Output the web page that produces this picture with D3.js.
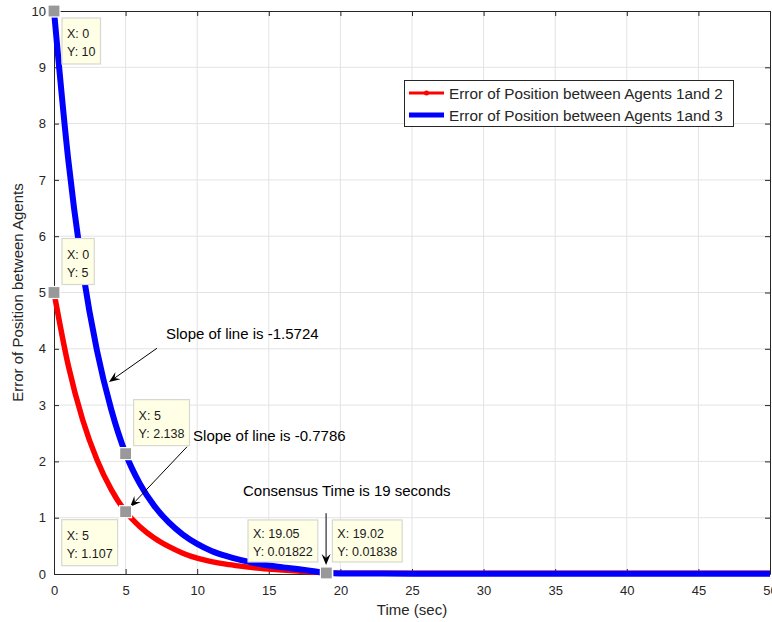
<!DOCTYPE html>
<html>
<head>
<meta charset="utf-8">
<script src="https://cdn.jsdelivr.net/npm/d3@7"></script>
<style>
  html, body { margin: 0; padding: 0; background: #fff; }
  svg { display: block; font-family: "Liberation Sans", Arial, Helvetica, sans-serif; }
</style>
</head>
<body>
<svg id="chart" width="772" height="622"></svg>
<script>
// Time samples (sec) and position errors between agents
const timeRed = [0,1,2,3,4,5,6,7,8,9,10,11,12,13,14,15,16,17,18,19.05,20,25,30,35,40,45,50];
const errorRed = [5,3.70,2.74,2.03,1.50,1.107,0.84,0.64,0.49,0.37,0.28,0.22,0.175,0.14,0.11,0.088,0.07,0.053,0.037,0.01822,0.015,0.013,0.012,0.012,0.012,0.012,0.012];
const timeBlue = [0,1,2,3,4,5,6,7,8,9,10,11,12,13,14,15,16,17,18,19.02,20,25,30,35,40,45,50];
const errorBlue = [10,7.35,5.40,3.97,2.92,2.138,1.60,1.21,0.92,0.70,0.535,0.41,0.32,0.25,0.195,0.152,0.118,0.088,0.055,0.01838,0.011,0.006,0.005,0.004,0.004,0.004,0.004];

const xTicks = [0,5,10,15,20,25,30,35,40,45,50];
const yTicks = [0,1,2,3,4,5,6,7,8,9,10];
const legendLabels = ["Error of Position between Agents 1and 2", "Error of Position between Agents 1and 3"];

// Data tips: point, label lines
const tipX = [0, 0, 5, 5, 19.05, 19.02];
const tipY = [10, 5, 2.138, 1.107, 0.01822, 0.01838];
const tipLabels = [["X: 0","Y: 10"],["X: 0","Y: 5"],["X: 5","Y: 2.138"],["X: 5","Y: 1.107"],["X: 19.05","Y: 0.01822"],["X: 19.02","Y: 0.01838"]];

// Text arrows (data coordinates)
const noteText = ["Slope of line is -1.5724", "Slope of line is -0.7786", "Consensus Time is 19 seconds"];
const noteTextPos = [[7.82,4.17],[9.71,2.36],[13.2,1.385]];
const noteTail = [[7.19,4.01],[9.29,2.26],[19.0,1.08]];
const noteHead = [[3.84,3.41],[5.31,1.19],[19.0,0.16]];

const svg = d3.select("#chart");
const L = 54, R = 770, T = 11, B = 574;
const x = d3.scaleLinear().domain([0,50]).range([L,R]);
const y = d3.scaleLinear().domain([0,10]).range([B,T]);
const axisColor = "#262626";

// grid
svg.append("g").selectAll("line.gx").data(xTicks.slice(1,-1)).join("line")
  .attr("x1", d=>x(d)).attr("x2", d=>x(d)).attr("y1", T).attr("y2", B)
  .attr("stroke", "#e3e3e3").attr("stroke-width", 1);
svg.append("g").selectAll("line.gy").data(yTicks.slice(1,-1)).join("line")
  .attr("x1", L).attr("x2", R).attr("y1", d=>y(d)).attr("y2", d=>y(d))
  .attr("stroke", "#e3e3e3").attr("stroke-width", 1);

// axes with inward ticks on all sides
const xb = d3.axisBottom(x).tickValues(xTicks).tickSizeInner(-5).tickSizeOuter(0).tickPadding(12);
const xt = d3.axisTop(x).tickValues(xTicks).tickSizeInner(-5).tickSizeOuter(0).tickFormat("");
const yl = d3.axisLeft(y).tickValues(yTicks).tickSizeInner(-5).tickSizeOuter(0).tickPadding(8);
const yr = d3.axisRight(y).tickValues(yTicks).tickSizeInner(-5).tickSizeOuter(0).tickFormat("");
function styleAxis(g) {
  g.selectAll("path").attr("stroke", axisColor).attr("stroke-width", 1);
  g.selectAll("line").attr("stroke", axisColor);
  g.selectAll("text").attr("fill", axisColor).style("font-size", "13px").style("font-family", "Liberation Sans, Arial, sans-serif");
}
svg.append("g").attr("transform", `translate(0,${B})`).call(xb).call(styleAxis);
svg.append("g").attr("transform", `translate(0,${T})`).call(xt).call(styleAxis);
svg.append("g").attr("transform", `translate(${L},0)`).call(yl).call(styleAxis);
svg.append("g").attr("transform", `translate(${R},0)`).call(yr).call(styleAxis);

// axis labels
svg.append("text").attr("x", (L+R)/2).attr("y", 615).attr("text-anchor", "middle")
  .attr("fill", axisColor).style("font-size", "15px").text("Time (sec)");
svg.append("text").attr("transform", `translate(23,${(T+B)/2}) rotate(-90)`).attr("text-anchor", "middle")
  .attr("fill", axisColor).style("font-size", "15px").text("Error of Position between Agents");

// curves
const line = d3.line().x(d=>x(d[0])).y(d=>y(d[1])).curve(d3.curveMonotoneX);
const redPts = timeRed.map((t,i)=>[t, errorRed[i]]);
const bluePts = timeBlue.map((t,i)=>[t, errorBlue[i]]);
svg.append("path").datum(redPts).attr("d", line).attr("fill", "none")
  .attr("stroke", "#ff0000").attr("stroke-width", 5.5).attr("stroke-linejoin", "round");
svg.append("path").datum(bluePts).attr("d", line).attr("fill", "none")
  .attr("stroke", "#0000ff").attr("stroke-width", 6).attr("stroke-linejoin", "round");

// legend
const lg = svg.append("g");
lg.append("rect").attr("x", 404.5).attr("y", 80.5).attr("width", 329).attr("height", 46)
  .attr("fill", "#fff").attr("stroke", axisColor).attr("stroke-width", 1);
const legColors = ["#ff0000", "#0000ff"];
const legY = [93, 115];
legendLabels.forEach((lab, i) => {
  lg.append("line").attr("x1", 409).attr("x2", 444).attr("y1", legY[i]).attr("y2", legY[i])
    .attr("stroke", legColors[i]).attr("stroke-width", i === 0 ? 3 : 5);
  if (i === 0) lg.append("circle").attr("cx", 426.5).attr("cy", legY[i]).attr("r", 2.5).attr("fill", legColors[i]);
  lg.append("text").attr("x", 449).attr("y", legY[i] + 5.5).attr("fill", axisColor)
    .style("font-size", "15.3px").text(lab);
});

// annotations with arrows
const ng = svg.append("g");
noteText.forEach((t, i) => {
  ng.append("text").attr("x", x(noteTextPos[i][0])).attr("y", y(noteTextPos[i][1]))
    .attr("fill", "#000").style("font-size", "15px").text(t);
  const x0 = x(noteTail[i][0]), y0 = y(noteTail[i][1]);
  const x1 = x(noteHead[i][0]), y1 = y(noteHead[i][1]);
  const ang = Math.atan2(y1 - y0, x1 - x0);
  const len = 11, half = 4.5, back = 7;
  const bx = x1 - len*Math.cos(ang), by = y1 - len*Math.sin(ang);
  const nx = -Math.sin(ang), ny = Math.cos(ang);
  const mx = x1 - back*Math.cos(ang), my = y1 - back*Math.sin(ang);
  ng.append("line").attr("x1", x0).attr("y1", y0).attr("x2", mx).attr("y2", my)
    .attr("stroke", "#000").attr("stroke-width", 1);
  ng.append("path")
    .attr("d", `M${x1},${y1}L${bx+nx*half},${by+ny*half}L${mx},${my}L${bx-nx*half},${by-ny*half}Z`)
    .attr("fill", "#000");
});

// data tips: box offset from the marker (left-anchored boxes use their right edge)
const tipOffsets = [[8,7],[8,-54],[8,-54],[-8,8],[-9,-53],[6,-53]];
const tipH = [46,46,46,46,42,42];
const tg = svg.append("g");
tipX.forEach((tx, i) => {
  const px = x(tx), py = y(tipY[i]);
  const g = tg.append("g");
  const rect = g.append("rect").attr("fill", "#ffffe6").attr("stroke", "#d8d8d0").attr("stroke-width", 1.2);
  const by = py + tipOffsets[i][1];
  const texts = tipLabels[i].map((s, j) => g.append("text")
    .attr("y", by + (tipH[i] === 46 ? 20 : 18) + j*18)
    .attr("fill", "#1a1a1a").style("font-size", "12.5px").text(s));
  const w = d3.max(texts, t => t.node().getComputedTextLength());
  const bw = w + 10;
  const bx = tipOffsets[i][0] >= 0 ? px + tipOffsets[i][0] : px + tipOffsets[i][0] - bw;
  texts.forEach(t => t.attr("x", bx + 5));
  rect.attr("x", bx).attr("y", by).attr("width", bw).attr("height", tipH[i]);
  g.append("rect").attr("x", px - 6).attr("y", py - 6).attr("width", 12).attr("height", 12)
    .attr("fill", "#999").attr("stroke", "#fff").attr("stroke-width", 1.2);
});
</script>
</body>
</html>
